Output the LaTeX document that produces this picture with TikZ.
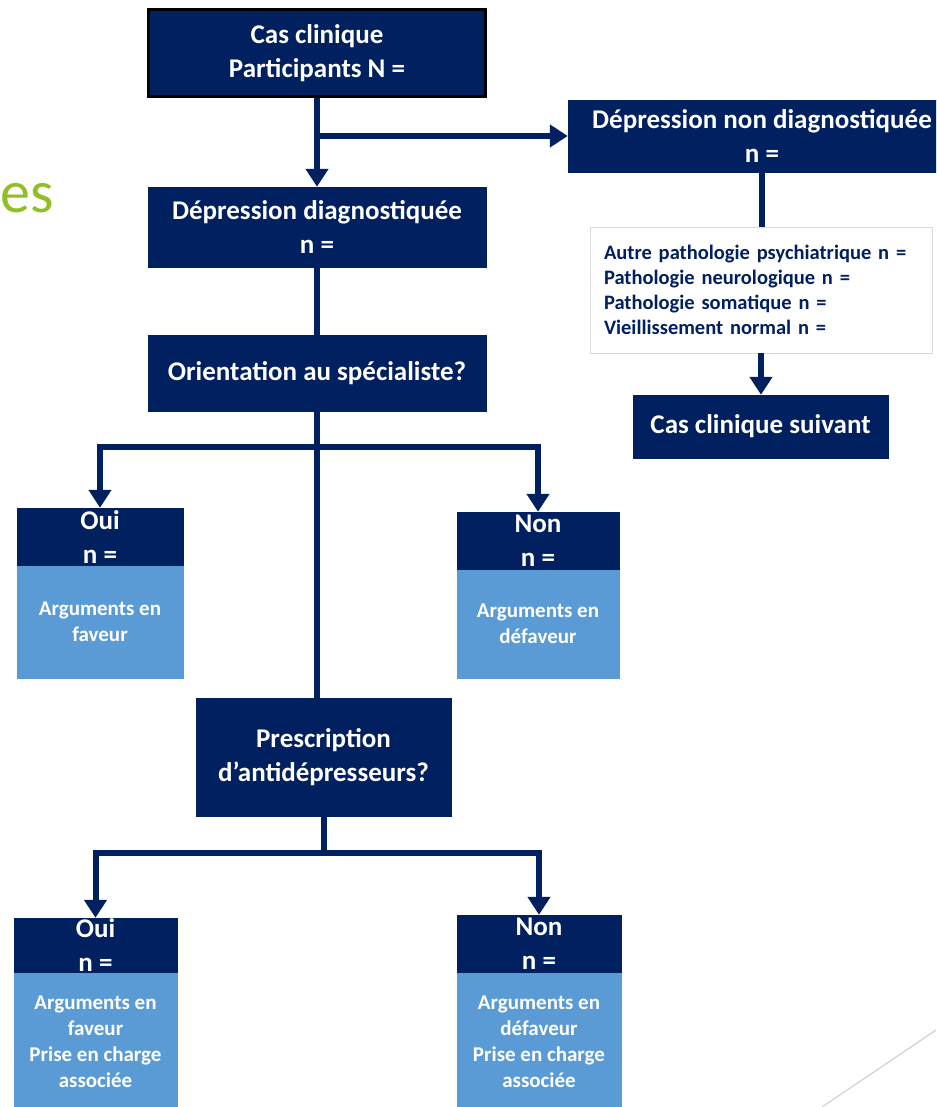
\documentclass[tikz,border=0pt]{standalone}
\usepackage{fontspec}
\setmainfont{Carlito}
\usetikzlibrary{arrows.meta,positioning,calc}
\definecolor{flownavy}{RGB}{0,32,96}
\definecolor{flowlight}{RGB}{91,155,213}
\definecolor{slidegreen}{RGB}{146,190,40}
\newcommand{\mainsize}{\fontsize{27}{34}\selectfont}
\newcommand{\argsize}{\fontsize{21}{26}\selectfont}
\newcommand{\listsize}{\fontsize{20.5}{25}\selectfont}

\begin{document}
\begin{tikzpicture}[x=1pt, y=-1pt,
	navybox/.style={draw=flownavy, fill=flownavy, text=white, font=\mainsize\bfseries, align=center, inner sep=0pt},
	lightbox/.style={draw=flowlight, fill=flowlight, text=white, font=\argsize\bfseries, align=center, inner sep=0pt},
	flowline/.style={draw=flownavy, line width=6pt},
	flowarrow/.style={flowline, -{Triangle[length=18pt, width=22pt]}}]
				\useasboundingbox (0,0) rectangle (936,1107);
				\clip (0,0) rectangle (936,1107);
				
				% Slide leftovers
				\node[anchor=base west, inner sep=0pt, text=slidegreen, font=\fontsize{60}{60}\selectfont] (slidetitle) at (0,213) {es};
				\draw[black!18, line width=1.2pt] (822,1107) -- (936,1030);
				
				% Top of the flow
				\node[navybox, draw=black, line width=3pt, minimum width=337pt, minimum height=87pt] (cas) at (317,53.5) {Cas clinique\\Participants N =};
				\node[navybox, minimum width=338pt, minimum height=80pt] (diag) at (317,227) {Dépression diagnostiquée\\n =};
				\node[navybox, minimum width=388pt, minimum height=72pt] (nondiag) at (762,136) {Dépression non diagnostiquée\\n =};
				
				% Other diagnoses
				\node[draw=black!15, fill=white, line width=0.8pt, minimum width=342pt, minimum height=126pt, text width=314pt, inner xsep=14pt, align=left, text=flownavy, font=\listsize\bfseries] (autres) at (761,290) {Autre pathologie psychiatrique n =\\Pathologie neurologique n =\\Pathologie somatique n =\\Vieillissement normal n =};
				\node[navybox, minimum width=255pt, minimum height=63pt] (suivant) at (760.5,426.5) {Cas clinique suivant};
				
				% Questions
				\node[navybox, minimum width=338pt, minimum height=76pt] (orient) at (317,373) {Orientation au spécialiste?};
				\node[navybox, minimum width=255pt, minimum height=118pt] (presc) at (323.5,757) {Prescription\\d’antidépresseurs?};
				
				% Answers to the first question
				\node[navybox, minimum width=166pt, minimum height=58pt] (oui1) at (100,537) {Oui\\n =};
				\node[lightbox, minimum width=166pt, minimum height=112pt] (oui1arg) at (100,622) {Arguments en\\faveur};
				\node[navybox, minimum width=162pt, minimum height=58pt] (non1) at (538,541) {Non\\n =};
				\node[lightbox, minimum width=162pt, minimum height=108pt] (non1arg) at (538,624) {Arguments en\\défaveur};
				
				% Answers to the second question
				\node[navybox, minimum width=163pt, minimum height=55pt] (oui2) at (95.5,945.5) {Oui\\n =};
				\node[lightbox, minimum width=163pt, minimum height=137pt] (oui2arg) at (95.5,1041.5) {Arguments en\\faveur\\Prise en charge\\associée};
				\node[navybox, minimum width=164pt, minimum height=58pt] (non2) at (539,944) {Non\\n =};
				\node[lightbox, minimum width=164pt, minimum height=137pt] (non2arg) at (539,1041.5) {Arguments en\\défaveur\\Prise en charge\\associée};
				
				% Connectors
				\draw[flowarrow] (cas.south) -- (diag.north);
				\draw[flowarrow] (cas.south |- nondiag.west) -- (nondiag.west);
				\draw[flowline] (diag.south) -- (orient.north);
				\draw[flowline] (nondiag.south) -- (nondiag.south |- autres.north);
				\draw[flowarrow] (autres.south) -- (autres.south |- suivant.north);
				\draw[flowline] (orient.south) -- (orient.south |- presc.north);
				\coordinate (fork1) at (317,447);
				\draw[flowarrow] (fork1) -| (oui1.north);
				\draw[flowarrow] (fork1) -| (non1.north);
				\coordinate (fork2) at (323.5,853);
				\draw[flowline] (presc.south) -- (fork2);
				\draw[flowarrow] (fork2) -| (oui2.north);
				\draw[flowarrow] (fork2) -| (non2.north);
			\end{tikzpicture}
\end{document}
